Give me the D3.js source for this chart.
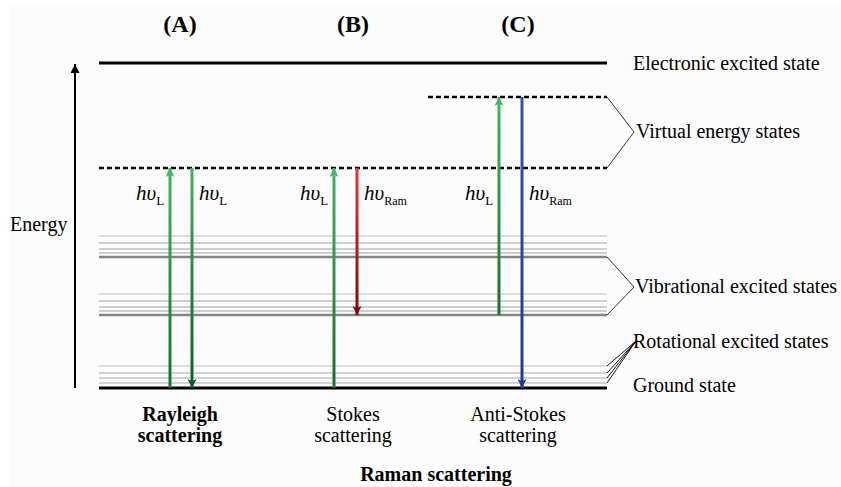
<!DOCTYPE html>
<html><head><meta charset="utf-8">
<script src="https://cdn.jsdelivr.net/npm/d3@7/dist/d3.min.js"></script>
<style>body{margin:0;background:#fff}svg{display:block}</style>
</head><body>
<script>
// Energy levels (arbitrary energy units, ground = 0)
const groundLevel = 0;
const rotationalLevels = [5, 10, 15, 22];
const vibrational1 = 73;
const vibrational1Sub = [77, 81, 87, 94];
const vibrational2 = 131;
const vibrational2Sub = [135, 139, 145, 152];
const virtualLow = 220;
const virtualHigh = 291;
const electronicLevel = 325;

// columns (x in diagram units 0..508)
const panelLabels = ["(A)", "(B)", "(C)"];
const panelX = [81, 254, 419];
const scatterNames = [["Rayleigh", "scattering"], ["Stokes", "scattering"], ["Anti-Stokes", "scattering"]];
const scatterBold = [true, false, false];

// transitions: x, from, to, colours, label, subscript
const transitions = [
  {x: 71,  from: 0,   to: 220, c0: "#1b6e36", c1: "#40b85c", label: "L",   side: "left"},
  {x: 93,  from: 220, to: 0,   c0: "#3fb45b", c1: "#0e5a2a", label: "L",   side: "right"},
  {x: 235, from: 0,   to: 220, c0: "#1b6e36", c1: "#40b85c", label: "L",   side: "left"},
  {x: 258, from: 220, to: 73,  c0: "#ea3440", c1: "#7a0a0e", label: "Ram", side: "right"},
  {x: 400, from: 73,  to: 291, c0: "#1b6e36", c1: "#40b85c", label: "L",   side: "left"},
  {x: 423, from: 291, to: 0,   c0: "#3452ad", c1: "#23399a", label: "Ram", side: "right"}
];

const stateLabels = ["Electronic excited state", "Virtual energy states", "Vibrational excited states", "Rotational excited states", "Ground state"];

const W = 841, H = 487;
const svg = d3.select("body").append("svg").attr("width", W).attr("height", H);
svg.append("rect").attr("width", W).attr("height", H).attr("fill", "#ffffff");
svg.append("rect").attr("x", 10).attr("y", 6).attr("width", 831).attr("height", 481).attr("fill", "#fcfcfc");

const y = d3.scaleLinear().domain([0, 325]).range([388, 63]);
const x = d3.scaleLinear().domain([0, 508]).range([99, 607]);
const serif = "'Liberation Serif','Times New Roman',serif";

const defs = svg.append("defs");
function head(id, color){
  defs.append("marker").attr("id", id).attr("viewBox", "0 0 10 10")
    .attr("refX", 10).attr("refY", 5).attr("markerWidth", 9).attr("markerHeight", 9)
    .attr("markerUnits", "userSpaceOnUse").attr("orient", "auto")
    .append("path").attr("d", "M0,0 L10,5 L0,10 Z").attr("fill", color);
}
head("axhead", "#000");

// thin sub-levels
function thinLevels(vals, color){
  svg.selectAll(null).data(vals).enter().append("line")
    .attr("x1", x(0)).attr("x2", x(508))
    .attr("y1", d => y(d)).attr("y2", d => y(d))
    .attr("stroke", (d,i) => i === vals.length - 1 ? "#bdbdbd" : color)
    .attr("stroke-width", 1.2);
}
thinLevels(rotationalLevels, "#a8a8a8");
thinLevels(vibrational1Sub, "#a0a0a0");
thinLevels(vibrational2Sub, "#a0a0a0");
[vibrational1, vibrational2].forEach(v => {
  svg.append("line").attr("x1", x(0)).attr("x2", x(508)).attr("y1", y(v)).attr("y2", y(v))
    .attr("stroke", "#858585").attr("stroke-width", 2.6);
});
// ground
svg.append("line").attr("x1", x(0)).attr("x2", x(508)).attr("y1", y(groundLevel)).attr("y2", y(groundLevel))
  .attr("stroke", "#000").attr("stroke-width", 3);
// electronic
svg.append("line").attr("x1", x(0)).attr("x2", x(508)).attr("y1", y(electronicLevel)).attr("y2", y(electronicLevel))
  .attr("stroke", "#000").attr("stroke-width", 3);
// virtual
svg.append("line").attr("x1", x(0)).attr("x2", x(508)).attr("y1", y(virtualLow)).attr("y2", y(virtualLow))
  .attr("stroke", "#000").attr("stroke-width", 2.5).attr("stroke-dasharray", "5,3");
svg.append("line").attr("x1", x(329)).attr("x2", x(508)).attr("y1", y(virtualHigh)).attr("y2", y(virtualHigh))
  .attr("stroke", "#000").attr("stroke-width", 2.5).attr("stroke-dasharray", "5,3");

// energy axis
svg.append("line").attr("x1", 75).attr("x2", 75).attr("y1", y(0)).attr("y2", 64)
  .attr("stroke", "#000").attr("stroke-width", 2).attr("marker-end", "url(#axhead)");
svg.append("text").attr("x", 10).attr("y", 231).attr("font-family", serif).attr("font-size", 20).text("Energy");

// transitions
transitions.forEach((t, i) => {
  const gid = "g" + i;
  const lg = defs.append("linearGradient").attr("id", gid).attr("gradientUnits", "userSpaceOnUse")
    .attr("x1", 0).attr("x2", 0).attr("y1", y(t.from)).attr("y2", y(t.to));
  lg.append("stop").attr("offset", 0).attr("stop-color", t.c0);
  lg.append("stop").attr("offset", 1).attr("stop-color", t.c1);
  const mid = "m" + i;
  defs.append("marker").attr("id", mid).attr("viewBox", "0 0 10 10")
    .attr("refX", 10).attr("refY", 5).attr("markerWidth", 10).attr("markerHeight", 9)
    .attr("markerUnits", "userSpaceOnUse").attr("orient", "auto")
    .append("path").attr("d", "M0,0 L10,5 L0,10 L2.5,5 Z").attr("fill", t.c1);
  svg.append("line").attr("x1", x(t.x)).attr("x2", x(t.x))
    .attr("y1", y(t.from)).attr("y2", y(t.to))
    .attr("stroke", `url(#${gid})`).attr("stroke-width", 3)
    .attr("marker-end", `url(#${mid})`);
  // label
  const lx = t.side === "left" ? x(t.x) - 34 : x(t.x) + 7;
  const txt = svg.append("text").attr("x", lx).attr("y", 200).attr("font-family", serif).attr("font-size", 21);
  txt.append("tspan").attr("font-style", "italic").text("hυ");
  txt.append("tspan").attr("font-size", t.label === "L" ? 13 : 12).attr("dy", 5).text(t.label);
});

// panel titles
svg.selectAll(null).data(panelLabels).enter().append("text")
  .attr("x", (d,i) => x(panelX[i])).attr("y", 32).attr("text-anchor", "middle")
  .attr("font-family", serif).attr("font-size", 24).attr("font-weight", "bold").text(d => d);

// scattering names
scatterNames.forEach((n, i) => {
  n.forEach((s, j) => {
    svg.append("text").attr("x", x(panelX[i])).attr("y", 421 + j * 21).attr("text-anchor", "middle")
      .attr("font-family", serif).attr("font-size", 20)
      .attr("font-weight", scatterBold[i] ? "bold" : "normal").text(s);
  });
});
svg.append("text").attr("x", 436).attr("y", 481).attr("text-anchor", "middle")
  .attr("font-family", serif).attr("font-size", 20).attr("font-weight", "bold").text("Raman scattering");

// state labels on right
const labelX = 633;
const labelYs = [70, 138, 293, 348, 392];
svg.selectAll(null).data(stateLabels).enter().append("text")
  .attr("x", (d,i) => i === 1 ? 636 : (i === 2 ? 635 : labelX)).attr("y", (d,i) => labelYs[i])
  .attr("font-family", serif).attr("font-size", 20).text(d => d);

// brackets
const bracket = (ya, yb, tipY) => {
  svg.append("path").attr("d", `M${x(508)},${y(ya)} L634,${tipY} L${x(508)},${y(yb)}`)
    .attr("fill", "none").attr("stroke", "#000").attr("stroke-width", 0.8);
};
bracket(virtualHigh, virtualLow, 132);
bracket(vibrational2, vibrational1, 287);
// rotational fan
rotationalLevels.forEach(r => {
  svg.append("line").attr("x1", 636).attr("y1", 341).attr("x2", x(508)).attr("y2", y(r))
    .attr("stroke", "#000").attr("stroke-width", 0.9);
});
</script>
</body></html>
